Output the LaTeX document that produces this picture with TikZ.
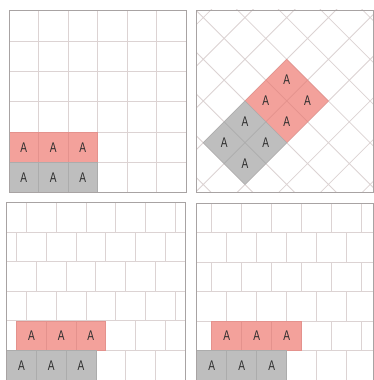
\documentclass[tikz,border=0pt]{standalone}
\usepackage{fontspec}
\setsansfont{Liberation Sans}
\newfontfamily\tilefont[FakeStretch=0.72]{Liberation Sans}
\definecolor{lineg}{RGB}{220,211,211}
\definecolor{frameg}{RGB}{168,163,163}
\definecolor{salmon}{RGB}{243,161,155}
\definecolor{salmonline}{RGB}{228,146,141}
\definecolor{tileg}{RGB}{190,190,190}
\definecolor{tilegline}{RGB}{172,172,172}
\definecolor{inkg}{RGB}{45,45,45}

\begin{document}
\begin{tikzpicture}[x=1pt, y=1pt,
		gridline/.style={lineg, line width=0.8pt},
		frame/.style={frameg, line width=0.9pt},
		redtile/.style={fill=salmon, draw=salmonline, line width=0.6pt},
		graytile/.style={fill=tileg, draw=tilegline, line width=0.6pt},
		letter/.style={inkg, font=\tilefont\fontsize{14}{14}\selectfont, inner sep=0pt}]
	\fill[white] (0, 0) rectangle (374, 380);
	\useasboundingbox (0, 0) rectangle (374, 380);

	% square grid
	\foreach \i in {1,...,5} {
		\draw[gridline] (9+\i*29.5, 187.3) -- (9+\i*29.5, 369.3);
		\draw[gridline] (9, 187.3+\i*30.33) -- (186, 187.3+\i*30.33);
	}
	\foreach \k in {0,1,2} {
		\draw[redtile] (9+\k*29.5, 217.63) rectangle ++(29.5, 30.33);
		\draw[graytile] (9+\k*29.5, 187.3) rectangle ++(29.5, 30.33);
		\node[letter] (sqr\k) at (23.75+\k*29.5, 232.8) {A};
		\node[letter] (sqg\k) at (23.75+\k*29.5, 202.5) {A};
	}
	\draw[frame] (9, 187.3) rectangle (186, 369.3);

	% diagonal grid
	\begin{scope}
		\clip (196.7, 187.3) rectangle (373.5, 370);
		\begin{scope}[shift={(286.7, 320.7)}, rotate=45]
			\draw[gridline, step=29.5] (-236, -236) grid (236, 236);
			\foreach \u/\v [count=\n] in {-0.5/-0.5, -1.5/-0.5, -0.5/-1.5, -1.5/-1.5} {
				\draw[redtile] ({(\u-0.5)*29.5}, {(\v-0.5)*29.5}) rectangle ++(29.5, 29.5);
				\node[letter] (dgr\n) at ({\u*29.5}, {\v*29.5}) {A};
			}
			\foreach \u/\v [count=\n] in {-2.5/-0.5, -3.5/-0.5, -2.5/-1.5, -3.5/-1.5} {
				\draw[graytile] ({(\u-0.5)*29.5}, {(\v-0.5)*29.5}) rectangle ++(29.5, 29.5);
				\node[letter] (dgg\n) at ({\u*29.5}, {\v*29.5}) {A};
			}
		\end{scope}
	\end{scope}
	\draw[frame] (196.7, 187.3) rectangle (373.5, 370);

	% third-bond bricks
	\begin{scope}
		\clip (6.7, 0) rectangle (185, 177.3);
		\foreach \r in {0,...,5} {
			\pgfmathsetmacro\off{mod(\r,3)/3}
			\draw[gridline] (6.7, \r*29.55) -- (185, \r*29.55);
			\foreach \k in {0,...,6}
				\draw[gridline] ({6.7+(\off+\k)*29.7}, \r*29.55) -- ++(0, 29.55);
		}
	\end{scope}
	\foreach \k in {0,1,2} {
		\draw[redtile] (16.6+\k*29.7, 29.55) rectangle ++(29.7, 29.55);
		\draw[graytile] (6.7+\k*29.7, 0) rectangle ++(29.7, 29.55);
		\node[letter] (tbr\k) at (31.45+\k*29.7, 44.3) {A};
		\node[letter] (tbg\k) at (21.55+\k*29.7, 14.8) {A};
	}
	\draw[frame] (6.7, 0) rectangle (185, 177.3);

	% half-bond bricks
	\begin{scope}
		\clip (196.7, 0) rectangle (373.5, 176.7);
		\foreach \r in {0,...,5} {
			\pgfmathsetmacro\off{mod(\r,2)/2}
			\draw[gridline] (196.7, \r*29.45) -- (373.5, \r*29.45);
			\foreach \k in {0,...,6}
				\draw[gridline] ({196.7+(\off+\k)*30}, \r*29.45) -- ++(0, 29.45);
		}
	\end{scope}
	\foreach \k in {0,1,2} {
		\draw[redtile] (211.7+\k*30, 29.45) rectangle ++(30, 29.45);
		\draw[graytile] (196.7+\k*30, 0) rectangle ++(30, 29.45);
		\node[letter] (hbr\k) at (226.7+\k*30, 44.2) {A};
		\node[letter] (hbg\k) at (211.7+\k*30, 14.7) {A};
	}
	\draw[frame] (196.7, 0) rectangle (373.5, 176.7);
\end{tikzpicture}
\end{document}
